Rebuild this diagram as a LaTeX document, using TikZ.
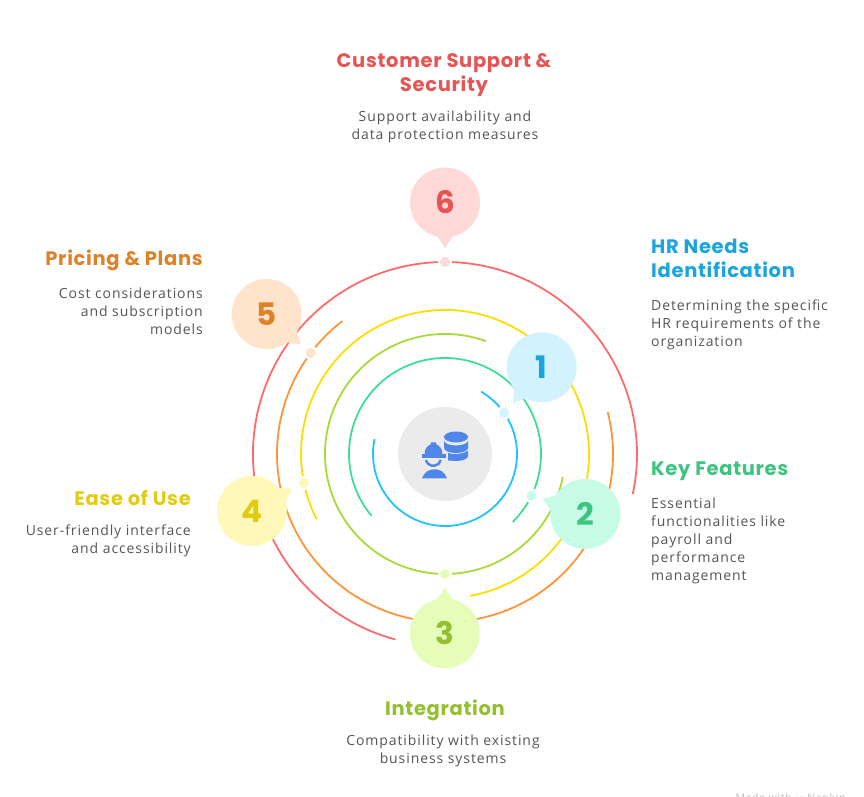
\documentclass[tikz,border=0pt]{standalone}
\usepackage{fontspec}
\setmainfont{Open Sans}[LetterSpace=6.5]
\newfontfamily\headfont{Poppins}[LetterSpace=3.5]
\newfontfamily\numfont{Poppins}
\newfontfamily\symfont{DejaVu Sans}
\definecolor{ringred}{HTML}{FF6B6B}
\definecolor{ringorange}{HTML}{FF9438}
\definecolor{ringyellow}{HTML}{FFDD00}
\definecolor{ringlime}{HTML}{A8DB38}
\definecolor{ringgreen}{HTML}{3FDD98}
\definecolor{ringblue}{HTML}{1FC3FF}
\definecolor{softblue}{HTML}{D2F3FE}
\definecolor{softgreen}{HTML}{C6FCE5}
\definecolor{softlime}{HTML}{E6FDB9}
\definecolor{softyellow}{HTML}{FFF8B8}
\definecolor{softorange}{HTML}{FFE3CB}
\definecolor{softred}{HTML}{FFD8D8}
\definecolor{inkblue}{HTML}{1BA5DC}
\definecolor{inkgreen}{HTML}{3CC480}
\definecolor{inklime}{HTML}{94BF2E}
\definecolor{inkyellow}{HTML}{E2CC12}
\definecolor{inkorange}{HTML}{DE8228}
\definecolor{inkred}{HTML}{E65454}
\definecolor{iconblue}{HTML}{4F86E8}
\definecolor{bodygrey}{HTML}{555555}
\tikzset{
  ring/.style={line width=1.8pt},
  bubble/.style={circle,minimum size=70pt,inner sep=0pt,font=\numfont\bfseries\fontsize{31}{31}\selectfont},
  dot/.style={circle,minimum size=10pt,inner sep=0pt},
  head/.style={inner sep=0pt,font=\headfont\bfseries\fontsize{19.5}{24}\selectfont},
  body/.style={inner sep=0pt,font=\fontsize{14}{18}\selectfont,text=bodygrey},
}
\begin{document}
\begin{tikzpicture}[x=1pt,y=1pt]
\useasboundingbox (0,0) rectangle (864,797);
\node[circle,fill=black!8,minimum size=94pt,inner sep=0pt] (hub) at (445,343) {};
% rings
\foreach \rad/\col/\from/\to in {72/ringblue/60/40.6, 72/ringblue/29.4/-192,
    96/ringgreen/-45/-30, 96/ringgreen/-21.5/220,
    120/ringlime/70/266.7, 120/ringlime/273.3/349,
    144/ringyellow/207/194.4, 144/ringyellow/188.8/-80,
    168/ringorange/14.4/-214.6, 168/ringorange/-219.4/-232.3,
    192/ringred/255/92.1, 192/ringred/87.9/-12}
  \draw[ring,\col] ([shift={(\from:\rad)}]hub.center) arc[start angle=\from,end angle=\to,radius=\rad];
% dots on the rings
\foreach \name/\rad/\ang/\col in {d1/72/35/softblue, d2/96/-25.7/softgreen, d3/120/-90/softlime,
    d4/144/191.6/softyellow, d5/168/143/softorange, d6/192/90/softred}
  \node[dot,fill=\col] (\name) at ([shift={(\ang:\rad)}]hub.center) {};
% bubbles
\foreach \name/\x/\y/\ang/\col/\ink/\num in {b1/541.7/429.7/231/softblue/inkblue/1,
    b2/585.3/283/160.6/softgreen/inkgreen/2, b3/444.7/163.7/90/softlime/inklime/3,
    b4/252/286/29/softyellow/inkyellow/4, b5/266.7/483/-42/softorange/inkorange/5,
    b6/445/594.5/270/softred/inkred/6} {
  \node[bubble,fill=\col,text=\ink] (\name) at (\x,\y) {\raisebox{-1.5pt}{\num}};
  \fill[\col] ([shift={(\ang+14:34)}]\name.center) -- ([shift={(\ang:45.5)}]\name.center) -- ([shift={(\ang-14:34)}]\name.center) -- cycle;
}
% icon
\begin{scope}[iconblue]
\fill (456,360) ellipse[x radius=12,y radius=5.5];
\fill (444,356.5) arc[start angle=180,end angle=360,x radius=12,y radius=5] -- (468,349) arc[start angle=0,end angle=-180,x radius=12,y radius=5] -- cycle;
\fill (448,344) .. controls (452,342.5) and (464,342.5) .. (468,346.5) -- (468,341) arc[start angle=0,end angle=-90,x radius=12,y radius=5] -- (448,336.5) -- cycle;
\fill (421.7,339.3) rectangle (446,342.7);
\fill (424.5,342) .. controls (424.5,349) and (428,351.5) .. (430.5,352.5) -- (431,354.7) -- (436,354.7) -- (436.5,352.5) .. controls (439,351.5) and (442.5,349) .. (442.5,342) -- cycle;
\draw[line width=2.4pt] (426,337) arc[start angle=190,end angle=350,x radius=7.5,y radius=7];
\fill (422,318.7) .. controls (424,325) and (429,327.7) .. (434.5,327.7) .. controls (440,327.7) and (445,325) .. (447,318.7) -- cycle;
\end{scope}
% headings and texts
\node[head,text=inkred,align=center] (t6) at (444,722) {Customer Support \&\\Security};
\node[body,align=center] (s6) at (445,670) {Support availability and\\data protection measures};
\node[head,text=inkblue,align=left,anchor=north west] (t1) at (651,557.7) {HR Needs\\Identification};
\node[body,align=left,anchor=north west] (s1) at (651,497.7) {Determining the specific\\HR requirements of the\\organization};
\node[head,text=inkgreen,anchor=west] (t2) at (651,326) {Key Features};
\node[body,align=left,anchor=north west] (s2) at (651,299.7) {Essential\\functionalities like\\payroll and\\performance\\management};
\node[head,text=inklime] (t3) at (445,87) {Integration};
\node[body,align=center] (s3) at (443,46) {Compatibility with existing\\business systems};
\node[head,text=inkyellow,anchor=east] (t4) at (191,299) {Ease of Use};
\node[body,align=right,anchor=east] (s4) at (191,256) {User-friendly interface\\and accessibility};
\node[head,text=inkorange,anchor=east] (t5) at (203,537) {Pricing \& Plans};
\node[body,align=right,anchor=north east] (s5) at (203,509.7) {Cost considerations\\and subscription\\models};
\node[font=\fontsize{10.5}{11}\selectfont,text=black!25,anchor=base west] (mark) at (732,-5) {Made with {\symfont\char"219D} Napkin};
\end{tikzpicture}
\end{document}
